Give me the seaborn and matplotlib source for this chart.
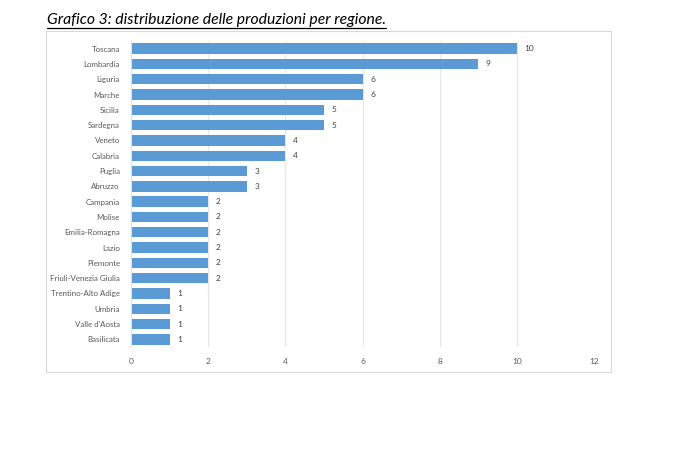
"""Grafico 3: distribuzione delle produzioni per regione."""

import matplotlib.pyplot as plt
import pandas as pd
import seaborn as sns
from matplotlib.patches import Rectangle

regioni = [
    "Toscana", "Lombardia", "Liguria", "Marche", "Sicilia", "Sardegna",
    "Veneto", "Calabria", "Puglia", "Abruzzo", "Campania", "Molise",
    "Emilia-Romagna", "Lazio", "Piemonte", "Friuli-Venezia Giulia",
    "Trentino-Alto Adige", "Umbria", "Valle d'Aosta", "Basilicata",
]
produzioni = [10, 9, 6, 6, 5, 5, 4, 4, 3, 3, 2, 2, 2, 2, 2, 2, 1, 1, 1, 1]
x_ticks = [0, 2, 4, 6, 8, 10, 12]

df = pd.DataFrame({"regione": regioni, "produzioni": produzioni})

sns.set_theme(style="white")
plt.rcParams["font.family"] = ["Lato", "DejaVu Sans"]

fig = plt.figure(figsize=(6.78, 4.65), dpi=100)
fig.patches.append(
    Rectangle((46 / 678, 1 - 372 / 465), (611 - 46) / 678, (372 - 31) / 465,
              transform=fig.transFigure, fill=False, edgecolor="#d9d9d9", linewidth=0.8)
)
ax = fig.add_axes([131 / 678, 1 - 347 / 465, 463 / 678, 306 / 465])

sns.barplot(data=df, x="produzioni", y="regione", ax=ax, color="#5b9bd5",
            saturation=1, width=0.68, edgecolor="none")

for i, v in enumerate(produzioni):
    ax.text(v + 0.2, i, str(v), va="center", ha="left", fontsize=6, color="#404040")

ax.set_xlim(0, 12)
ax.set_xticks(x_ticks)
ax.set_xticklabels([str(t) for t in x_ticks], fontsize=6, color="#595959")
ax.tick_params(axis="y", labelsize=5.7, labelcolor="#595959", length=0, pad=8)
ax.tick_params(axis="x", length=0, pad=8)
ax.set_xlabel("")
ax.set_ylabel("")
ax.grid(axis="x", color="#e6e6e6", linewidth=0.8)
ax.set_axisbelow(True)
for side in ["top", "right", "bottom"]:
    ax.spines[side].set_visible(False)
ax.spines["left"].set_color("#e0e0e0")
ax.spines["left"].set_linewidth(0.8)

fig.text(47 / 678, 1 - 20 / 465, "Grafico 3: distribuzione delle produzioni per regione.",
         fontsize=11.3, style="italic", va="center", ha="left", color="black")
fig.add_artist(plt.Line2D([47 / 678, 386 / 678], [1 - 28 / 465, 1 - 28 / 465],
                          transform=fig.transFigure, color="black", linewidth=0.9))

fig.savefig("out.png", dpi=100)
plt.close(fig)
